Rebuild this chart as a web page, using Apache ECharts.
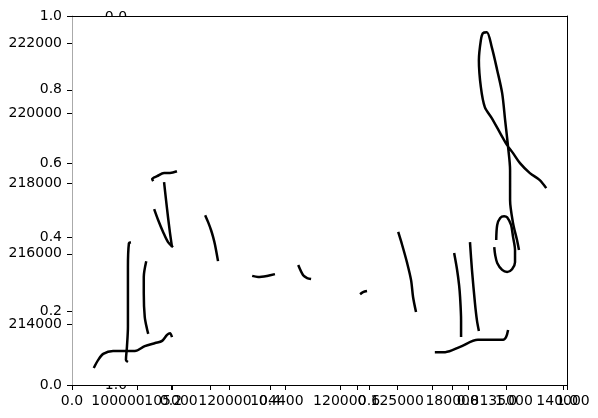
<!DOCTYPE html>
<html><head><meta charset="utf-8">
<script src="https://cdn.jsdelivr.net/npm/echarts@6/dist/echarts.min.js"></script>
<style>html,body{margin:0;padding:0;background:#fff}#c{width:598px;height:418px}</style>
</head><body><div id="c"></div>
<script>
// ---- tick labels ----
const fracTicks = [0, 0.2, 0.4, 0.6, 0.8, 1.0];
const valueTicks = [214000, 216000, 218000, 220000, 222000];
const valueRange = [212265, 222768];
const extraXTicks = [0.131, 0.202, 0.279, 0.317, 0.430, 0.541, 0.576, 0.657, 0.727, 0.768, 0.877, 0.992];
const extraXLabelPosA = [0.093, 0.309, 0.541, 0.768, 0.992];
const extraXLabelsA = ['100000', '120000', '120000', '180000', '140000'];
const extraXLabelPosB = [0.200, 0.414, 0.657, 0.877];
const extraXLabelsB = ['105000', '104400', '125000', '135000'];
const overlapLabelPos = [0.877];
const overlapLabels = ['1.0'];

// ---- line traces: [x (axis fraction), value] ----
const traceBottomLeft = [[0.044,212750],[0.053,212980],[0.063,213150],[0.083,213230],[0.127,213230],[0.147,213370],[0.168,213460],[0.182,213520],[0.192,213690],[0.198,213740],[0.202,213630]];
const traceTallLeft = [[0.119,216330],[0.115,216300],[0.113,215620],[0.113,214680],[0.113,213920],[0.111,213350],[0.109,212980],[0.113,212920]];
const traceShortLeft = [[0.150,215790],[0.145,215340],[0.145,214880],[0.147,214200],[0.152,213830],[0.154,213720]];
const traceSlopeLeft = [[0.166,217270],[0.174,216960],[0.184,216620],[0.194,216330],[0.204,216190]];
const traceDropLeft = [[0.186,218040],[0.190,217530],[0.194,217040],[0.198,216590],[0.202,216190]];
const traceHookLeft = [[0.164,218070],[0.162,218130],[0.172,218210],[0.186,218300],[0.198,218300],[0.212,218350]];
const traceMidA = [[0.269,217100],[0.275,216900],[0.281,216670],[0.285,216480],[0.289,216250],[0.295,215790]];
const traceMidB = [[0.364,215370],[0.376,215340],[0.394,215370],[0.410,215420]];
const traceMidC = [[0.457,215680],[0.467,215390],[0.475,215310],[0.483,215280]];
const traceMidD = [[0.582,214850],[0.588,214910],[0.596,214940]];
const traceRightE = [[0.659,216620],[0.667,216250],[0.677,215740],[0.685,215250],[0.689,214770],[0.695,214340]];
const traceRightF = [[0.772,216020],[0.778,215540],[0.782,215110],[0.784,214770],[0.786,214110],[0.786,213630]];
const traceRightG = [[0.804,216330],[0.808,215540],[0.814,214600],[0.818,214110],[0.822,213800]];
const traceRightBase = [[0.733,213200],[0.754,213200],[0.784,213350],[0.820,213550],[0.871,213550],[0.877,213630],[0.881,213830]];
const traceRightLoop = [[0.857,216390],[0.859,216820],[0.865,217020],[0.873,217070],[0.879,217040],[0.887,216820],[0.891,216480],[0.895,216100],[0.895,215760],[0.889,215560],[0.879,215480],[0.869,215540],[0.859,215740],[0.855,215960],[0.853,216190]];
const traceRightTall = [[0.903,216105],[0.899,216390],[0.891,216873],[0.885,217528],[0.885,218381],[0.881,219036],[0.875,219804],[0.869,220572],[0.859,221226],[0.848,221881],[0.838,222307],[0.830,222279],[0.826,222080],[0.822,221511],[0.826,220743],[0.834,220174],[0.848,219861],[0.865,219434],[0.879,219093],[0.891,218865],[0.905,218580],[0.925,218296],[0.945,218097],[0.958,217869]];

const traces = [traceBottomLeft, traceTallLeft, traceShortLeft, traceSlopeLeft, traceDropLeft, traceHookLeft,
  traceMidA, traceMidB, traceMidC, traceMidD, traceRightE, traceRightF, traceRightG, traceRightBase, traceRightLoop, traceRightTall];

const FONT = 'DejaVu Sans';
const FS = 14;
const chart = echarts.init(document.getElementById('c'), null, {renderer: 'canvas'});
const G = {left: 72, top: 16, width: 495, height: 369};
const lbl = (extra) => Object.assign({color: '#000', fontFamily: FONT, fontSize: FS, hideOverlap: false}, extra);
const lookup = (pos, labels) => (v) => { const i = pos.findIndex(p => Math.abs(p - v) < 1e-6); return i >= 0 ? labels[i] : ''; };
const labelAxis = (pos, labels) => ({type: 'value', position: 'bottom', min: 0, max: 1, z: 5,
  axisLine: {show: false, onZero: false}, axisTick: {show: false},
  axisLabel: lbl({margin: 9, customValues: pos, showMinLabel: true, showMaxLabel: true, formatter: lookup(pos, labels)}),
  splitLine: {show: false}});

chart.setOption({
  animation: false,
  backgroundColor: '#fff',
  grid: {left: G.left, top: G.top, width: G.width, height: G.height, containLabel: false},
  graphic: [
    {type: 'text', z: 0, x: 116, y: 17, style: {text: '0.0', fill: '#000', font: FS + 'px "' + FONT + '"', align: 'center', verticalAlign: 'middle'}},
    {type: 'text', z: 0, x: 116, y: 385, style: {text: '1.0', fill: '#000', font: FS + 'px "' + FONT + '"', align: 'center', verticalAlign: 'middle'}},
    {type: 'rect', z: 1, shape: {x: G.left, y: G.top, width: G.width, height: G.height}, style: {fill: '#fff'}}
  ],
  xAxis: [
    {type: 'value', position: 'bottom', min: 0, max: 1, interval: 0.2, z: 5,
      axisLine: {show: true, onZero: false, lineStyle: {color: '#000', width: 1}},
      axisTick: {show: true, length: 5, lineStyle: {color: '#000'}},
      axisLabel: lbl({margin: 9, formatter: v => v.toFixed(1)}),
      splitLine: {show: false}},
    {type: 'value', position: 'bottom', min: 0, max: 1, z: 5,
      axisLine: {show: false, onZero: false},
      axisTick: {show: true, length: 5, customValues: extraXTicks, lineStyle: {color: '#000'}},
      axisLabel: {show: false}, splitLine: {show: false}},
    labelAxis(extraXLabelPosA, extraXLabelsA),
    labelAxis(extraXLabelPosB, extraXLabelsB),
    labelAxis(overlapLabelPos, overlapLabels),
    {type: 'value', position: 'top', min: 0, max: 1, z: 5,
      axisLine: {show: true, onZero: false, lineStyle: {color: '#000', width: 1}},
      axisTick: {show: false}, axisLabel: {show: false}, splitLine: {show: false}}
  ],
  yAxis: [
    {type: 'value', position: 'left', min: 0, max: 1, interval: 0.2, z: 5,
      axisLine: {show: true, onZero: false, lineStyle: {color: '#aaa', width: 1}},
      axisTick: {show: true, length: 5, lineStyle: {color: '#000'}},
      axisLabel: lbl({margin: 10, formatter: v => v.toFixed(1)}),
      splitLine: {show: false}},
    {type: 'value', position: 'left', offset: 0, min: valueRange[0], max: valueRange[1], z: 5,
      axisLine: {show: false, onZero: false},
      axisTick: {show: true, length: 5, customValues: valueTicks, lineStyle: {color: '#000'}},
      axisLabel: lbl({margin: 10, customValues: valueTicks, formatter: v => String(v)}),
      splitLine: {show: false}},
    {type: 'value', position: 'right', min: 0, max: 1, z: 5,
      axisLine: {show: true, onZero: false, lineStyle: {color: '#000', width: 1}},
      axisTick: {show: false}, axisLabel: {show: false}, splitLine: {show: false}}
  ],
  series: traces.map((t, i) => ({
    type: 'line', name: 'trace' + i, xAxisIndex: 0, yAxisIndex: 1, z: 3,
    data: t, showSymbol: false, symbol: 'none', smooth: 0.3, clip: false,
    lineStyle: {color: '#000', width: 2.5, cap: 'butt', join: 'round'}
  }))
});
</script></body></html>
